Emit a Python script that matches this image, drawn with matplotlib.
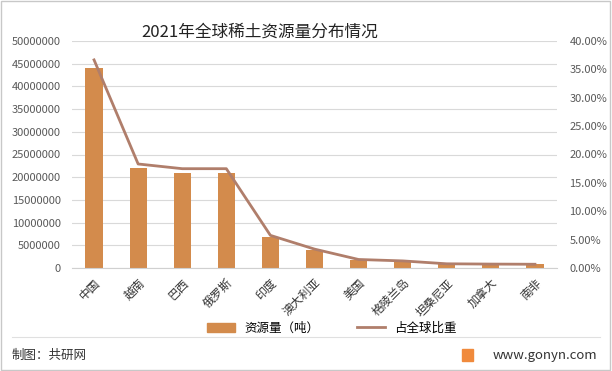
import numpy as np
import matplotlib
matplotlib.use("Agg")
import matplotlib.pyplot as plt
from matplotlib.ticker import FuncFormatter, MultipleLocator
from matplotlib.patches import Rectangle
from matplotlib.lines import Line2D

plt.rcParams['font.family'] = ['Noto Sans CJK SC', 'DejaVu Sans']

# data
countries = ['中国', '越南', '巴西', '俄罗斯', '印度', '澳大利亚', '美国',
             '格陵兰岛', '坦桑尼亚', '加拿大', '南非']
reserves = [44000000, 22000000, 21000000, 21000000, 6900000, 4000000,
            1800000, 1500000, 890000, 830000, 790000]
share = [36.67, 18.33, 17.50, 17.50, 5.75, 3.33, 1.50, 1.25, 0.74, 0.69, 0.66]

bar_color = '#D38B4C'
line_color = '#B07E6B'
txt = '#595959'

fig = plt.figure(figsize=(6.12, 3.71), dpi=100)
ax = fig.add_axes([72 / 612, 1 - 268 / 371, 485 / 612, 227 / 371])
ax2 = ax.twinx()

x = np.arange(len(countries))
ax.bar(x, reserves, width=0.39, color=bar_color, zorder=2)
ax2.plot(x, share, color=line_color, lw=2.0, zorder=3)

ax.set_xlim(-0.5, len(countries) - 0.5)
ax.set_ylim(0, 50000000)
ax.yaxis.set_major_locator(MultipleLocator(5000000))
ax.yaxis.set_major_formatter(FuncFormatter(lambda v, p: f'{int(v)}'))
ax2.set_ylim(0, 40)
ax2.yaxis.set_major_locator(MultipleLocator(5))
ax2.yaxis.set_major_formatter(FuncFormatter(lambda v, p: f'{v:.2f}%'))

ax.set_xticks(x)
ax.set_xticklabels(countries, rotation=45, ha='right', rotation_mode='anchor')
ax.grid(axis='y', color='#D9D9D9', lw=0.8, zorder=0)
for a in (ax, ax2):
    for s in a.spines.values():
        s.set_visible(False)
    a.tick_params(length=0, colors=txt, labelsize=8)
ax.spines['bottom'].set_visible(True)
ax.spines['bottom'].set_color('#D0D0D0')
ax.tick_params(axis='x', pad=6, labelsize=8.5, labelcolor='#333333')
ax.tick_params(axis='y', pad=8)
ax2.tick_params(axis='y', pad=9)

fig.text(260 / 612, 1 - 32 / 371, '2021年全球稀土资源量分布情况', ha='center',
         va='center', fontsize=12, color='#222222')

handles = [Rectangle((0, 0), 1, 1, color=bar_color),
           Line2D([], [], color=line_color, lw=2.0)]
fig.legend(handles, ['资源量（吨）', '占全球比重'], ncol=2, frameon=False,
           loc='center', bbox_to_anchor=(332 / 612, 1 - 328 / 371),
           fontsize=9, handlelength=2.2, handleheight=0.7, columnspacing=3)

# footer
fig.add_artist(Line2D([12 / 612, 600 / 612], [1 - 337 / 371] * 2,
                      color='#E0E0E0', lw=0.8))
fig.text(12 / 612, 1 - 355 / 371, '制图：共研网', fontsize=9, color='#333333',
         va='center')
fig.add_artist(Rectangle((462 / 612, 1 - 361 / 371), 11 / 612, 12 / 371,
                         color='#F08A3C', transform=fig.transFigure))
fig.text(597 / 612, 1 - 355 / 371, 'www.gonyn.com', fontsize=9.5,
         color='#333333', va='center', ha='right')
fig.add_artist(Rectangle((0.002, 0.003), 0.995, 0.994, fill=False,
                         ec='#C8C8C8', lw=1, transform=fig.transFigure))

fig.savefig('out.png', dpi=100)
